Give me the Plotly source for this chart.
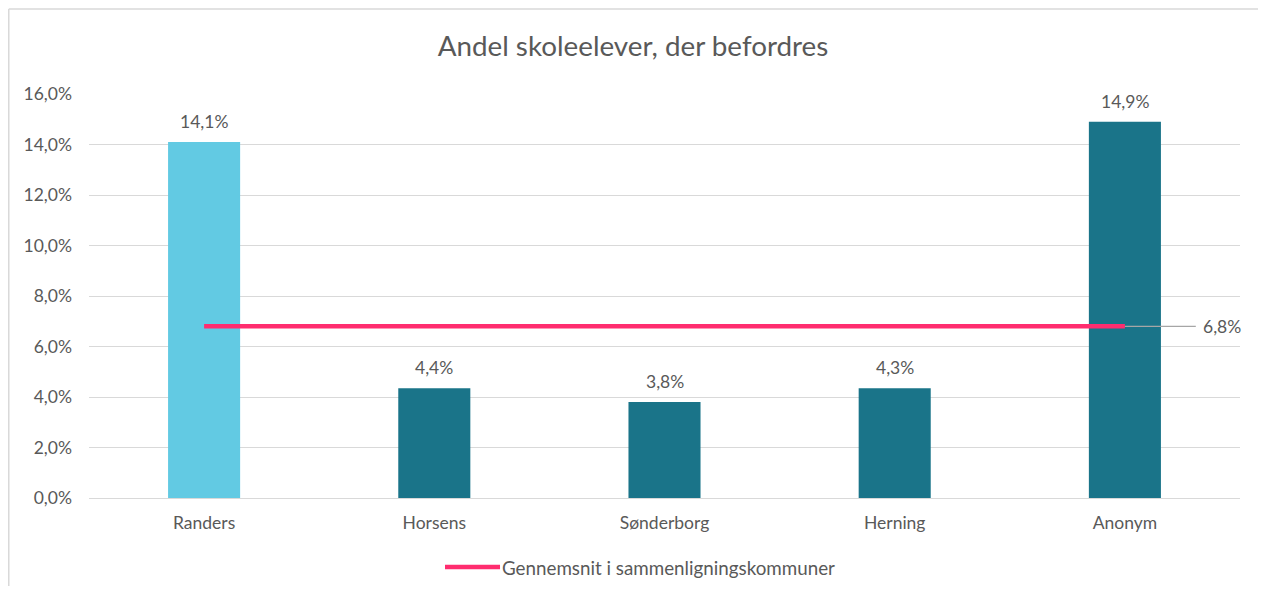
import plotly.graph_objects as go

categories = ["Randers", "Horsens", "Sønderborg", "Herning", "Anonym"]
values = [14.1, 4.35, 3.8, 4.35, 14.9]
value_labels = ["14,1%", "4,4%", "3,8%", "4,3%", "14,9%"]
bar_colors = ["#62CAE3", "#1A7489", "#1A7489", "#1A7489", "#1A7489"]
average = 6.8
average_label = "6,8%"
average_name = "Gennemsnit i sammenligningskommuner"
y_ticks = [0, 2, 4, 6, 8, 10, 12, 14, 16]
y_tick_labels = ["0,0%", "2,0%", "4,0%", "6,0%", "8,0%", "10,0%", "12,0%", "14,0%", "16,0%"]

FONT = "Lato"
TXT = "#595959"
PINK = "#FF2D6F"

x_idx = list(range(len(categories)))

fig = go.Figure()
fig.add_trace(go.Bar(
    x=x_idx, y=values, width=0.313,
    marker=dict(color=bar_colors, line=dict(width=0)),
    showlegend=False, hoverinfo="skip",
))
for xi, v, lab in zip(x_idx, values, value_labels):
    fig.add_annotation(x=xi, y=v, text=lab, showarrow=False, yanchor="bottom",
                       yshift=8, font=dict(family=FONT, size=17.5, color=TXT))

fig.add_trace(go.Scatter(
    x=[x_idx[0], x_idx[-1]], y=[average, average], mode="lines",
    line=dict(color=PINK, width=4.5), name=average_name, showlegend=False,
))
# leader line for average label
fig.add_trace(go.Scatter(
    x=[x_idx[-1], x_idx[-1] + 0.308], y=[average, average], mode="lines",
    line=dict(color="#A6A6A6", width=1.3), showlegend=False, hoverinfo="skip",
))
fig.add_annotation(
    x=x_idx[-1] + 0.33, y=average, text=average_label, showarrow=False,
    xanchor="left", yanchor="middle",
    font=dict(family=FONT, size=17.5, color=TXT),
)

# legend (drawn manually to match the long line sample)
fig.add_shape(type="line", xref="paper", yref="paper",
              x0=0.3093, x1=0.3571, y0=-0.1708, y1=-0.1708,
              line=dict(color=PINK, width=4.5))
fig.add_annotation(xref="paper", yref="paper", x=0.357, y=-0.1708,
                   text=average_name, showarrow=False, xanchor="left", yanchor="middle",
                   font=dict(family=FONT, size=18.8, color=TXT))

# chart border (top and left visible)
fig.add_shape(type="line", xref="paper", yref="paper",
              x0=-0.0697, x1=1.1, y0=1.2104, y1=1.2104,
              line=dict(color="#D9D9D9", width=1.5), layer="below")
fig.add_shape(type="line", xref="paper", yref="paper",
              x0=-0.0697, x1=-0.0697, y0=-0.3, y1=1.2104,
              line=dict(color="#D9D9D9", width=1.5), layer="below")

fig.update_layout(
    width=1250, height=578,
    margin=dict(l=81, r=18, t=86, b=88),
    paper_bgcolor="white", plot_bgcolor="white",
    title=dict(text="Andel skoleelever, der befordres", x=0.5, xanchor="center",
               y=0.9343, yanchor="middle",
               font=dict(family=FONT, size=27.8, color=TXT)),
    font=dict(family=FONT, size=17.5, color=TXT),
    showlegend=False,
    xaxis=dict(range=[-0.5, len(categories) - 0.5], tickvals=x_idx, ticktext=categories,
               showgrid=False, zeroline=False, showline=False, ticks="",
               ticklabelstandoff=12,
               tickfont=dict(family=FONT, size=17.5, color=TXT)),
    yaxis=dict(range=[0, 16], tickvals=y_ticks, ticktext=y_tick_labels,
               showgrid=True, gridcolor="#D9D9D9", gridwidth=1.3,
               zeroline=True, zerolinecolor="#D9D9D9", zerolinewidth=1.3,
               showline=False, ticks="", ticklabelstandoff=16,
               tickfont=dict(family=FONT, size=17.5, color=TXT)),
)

fig.write_html("out.html")
